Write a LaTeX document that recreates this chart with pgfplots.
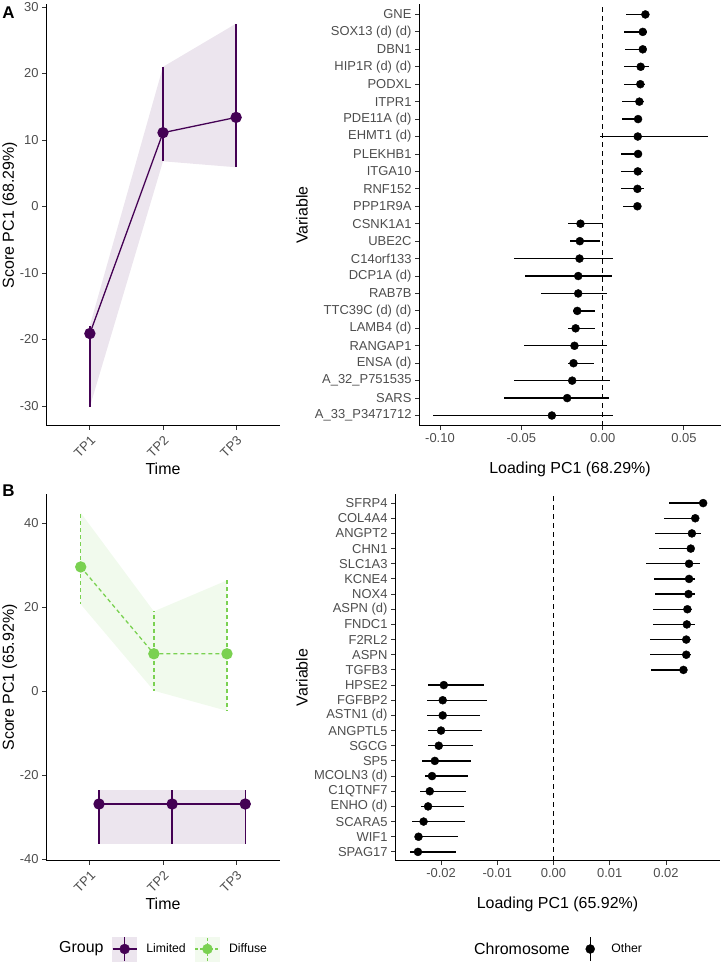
\documentclass[border=0pt]{standalone}
\usepackage{pgfplots}
\pgfplotsset{compat=1.18}
\usepackage{pgfplotstable}
\usepgfplotslibrary{fillbetween}
\usepackage{fontspec}
\setmainfont{Liberation Sans}
\definecolor{limited}{HTML}{440154}
\definecolor{diffuse}{HTML}{7AD151}
\definecolor{ticklab}{HTML}{4D4D4D}
\definecolor{tickc}{HTML}{333333}

\pgfplotstableread{
x y lo hi
1 -19.1 -30.1 -17.9
2 11.1 6.8 21.0
3 13.4 5.9 27.5
}\Aleft

\pgfplotstableread{
x y lo hi
0.875 29.6 20.7 42.5
1.875 8.9 0.1 19.0
2.875 8.9 -4.7 26.4
}\Bdiff

\pgfplotstableread{
x y lo hi
1.125 -26.9 -36.4 -23.6
2.125 -26.9 -36.4 -23.6
3.125 -26.9 -36.4 -23.6
}\Blim

% A right: y index (1 = bottom), loading, lower, upper
\pgfplotstableread{
y x lo hi
24 0.0263 0.0146 0.0273
23 0.0247 0.0134 0.0273
22 0.0247 0.0140 0.0267
21 0.0234 0.0129 0.0286
20 0.0232 0.0134 0.0259
19 0.0226 0.0121 0.0253
18 0.0218 0.0117 0.0238
17 0.0216 -0.0014 0.0649
16 0.0218 0.0111 0.0242
15 0.0216 0.0115 0.0249
14 0.0214 0.0115 0.0257
13 0.0214 0.0123 0.0236
12 -0.0136 -0.0210 -0.0004
11 -0.0140 -0.0199 -0.0018
10 -0.0142 -0.0543 0.0064
9 -0.0150 -0.0477 0.0058
8 -0.0150 -0.0378 0.0027
7 -0.0156 -0.0185 -0.0045
6 -0.0166 -0.0212 -0.0047
5 -0.0173 -0.0481 0.0027
4 -0.0179 -0.0210 -0.0053
3 -0.0187 -0.0547 0.0047
2 -0.0218 -0.0604 0.0039
1 -0.0312 -0.1042 0.0064
}\Aright

\pgfplotstableread{
y x lo hi
24 0.0266 0.0205 0.0269
23 0.0252 0.0197 0.0255
22 0.0246 0.0180 0.0263
21 0.0244 0.0188 0.0249
20 0.0241 0.0165 0.0261
19 0.0241 0.0178 0.0251
18 0.0240 0.0180 0.0252
17 0.0238 0.0176 0.0246
16 0.0237 0.0176 0.0251
15 0.0236 0.0172 0.0244
14 0.0236 0.0172 0.0245
13 0.0231 0.0174 0.0236
12 -0.0195 -0.0223 -0.0124
11 -0.0197 -0.0225 -0.0119
10 -0.0197 -0.0225 -0.0130
9 -0.0200 -0.0223 -0.0128
8 -0.0204 -0.0223 -0.0143
7 -0.0211 -0.0234 -0.0147
6 -0.0216 -0.0229 -0.0152
5 -0.0220 -0.0238 -0.0156
4 -0.0223 -0.0236 -0.0160
3 -0.0231 -0.0251 -0.0158
2 -0.0240 -0.0245 -0.0169
1 -0.0241 -0.0256 -0.0173
}\Bright

\pgfplotsset{
  gg/.style={
    scale only axis,
    anchor=south west,
    axis lines=left,
    axis line style={-, line width=1bp, black},
    tick style={line width=0.9bp, color=tickc},
    tick align=outside,
    major tick length=4bp,
    minor tick num=0,
    scaled ticks=false,
    tick label style={font=\fontsize{13}{13}\selectfont, color=ticklab},
    every axis label/.append style={font=\fontsize{16}{16}\selectfont, color=black},
  },
  legstyle/.style={
    legend columns=-1,
    legend cell align=left,
    legend style={draw=none, fill=none, inner sep=0pt, outer sep=0pt,
      font=\fontsize{12.3}{12.3}\selectfont, anchor=west,
      /tikz/every odd column/.append style={column sep=7bp},
      /tikz/every even column/.append style={column sep=7bp}},
  },
}

\begin{document}
\begin{tikzpicture}

% ---------------- A left ----------------
\begin{axis}[gg, at={(46bp,536bp)}, width=234bp, height=422bp,
  xmin=0.4, xmax=3.6, ymin=-33.0, ymax=30.45,
  xtick={1,2,3}, xticklabels={TP1,TP2,TP3},
  ytick={-30,-20,-10,0,10,20,30}, yticklabels={-30,-20,-10,0,10,20,30},
  xticklabel style={rotate=45, anchor=north east},
  xlabel={Time}, ylabel={Score PC1 (68.29\%)},
  every axis y label/.style={at={(axis description cs:-0.155,0.5)}, rotate=90, anchor=center},
  every axis x label/.style={at={(axis description cs:0.5,-0.102)}, anchor=center},
]
\addplot[name path=alo, draw=none, forget plot] table[x=x, y=lo] {\Aleft};
\addplot[name path=ahi, draw=none, forget plot] table[x=x, y=hi] {\Aleft};
\addplot[fill=limited, fill opacity=0.1, draw=none, forget plot] fill between[of=ahi and alo];
\addplot[limited, line width=1.3bp, mark=*, mark size=5bp, forget plot,
  error bars/.cd, y dir=both, y explicit, error mark=none,
  error bar style={line width=1.3bp, limited}]
  table[x=x, y=y, y error plus expr=\thisrow{hi}-\thisrow{y}, y error minus expr=\thisrow{y}-\thisrow{lo}] {\Aleft};
\end{axis}

% ---------------- A right ----------------
\begin{axis}[gg, at={(419bp,536bp)}, width=302bp, height=422bp,
  xmin=-0.1129, xmax=0.0728, ymin=0.4, ymax=24.6,
  xtick={-0.1,-0.05,0,0.05}, xticklabels={-0.10,-0.05,0.00,0.05},
  ytick={1,2,...,24},
  yticklabels={A\_33\_P3471712,SARS,A\_32\_P751535,ENSA (d),RANGAP1,LAMB4 (d),TTC39C (d) (d),RAB7B,DCP1A (d),C14orf133,UBE2C,CSNK1A1,PPP1R9A,RNF152,ITGA10,PLEKHB1,EHMT1 (d),PDE11A (d),ITPR1,PODXL,HIP1R (d) (d),DBN1,SOX13 (d) (d),GNE},
  xlabel={Loading PC1 (68.29\%)}, ylabel={Variable},
  every axis y label/.style={at={(axis description cs:-0.3874,0.5)}, rotate=90, anchor=center},
  every axis x label/.style={at={(axis description cs:0.5,-0.102)}, anchor=center},
]
\addplot[black, dash pattern=on 5bp off 4bp, line width=1bp, forget plot] coordinates {(0,0.4) (0,24.6)};
\addplot[only marks, mark=*, mark size=4bp, black, forget plot,
  error bars/.cd, x dir=both, x explicit, error mark=none,
  error bar style={line width=1.3bp, black}]
  table[x=x, y=y, x error plus expr=\thisrow{hi}-\thisrow{x}, x error minus expr=\thisrow{x}-\thisrow{lo}] {\Aright};
\end{axis}

% ---------------- B left ----------------
\begin{axis}[gg, legstyle, at={(46bp,101bp)}, width=234bp, height=367bp,
  xmin=0.4, xmax=3.6, ymin=-40.48, ymax=46.98,
  xtick={1,2,3}, xticklabels={TP1,TP2,TP3},
  ytick={-40,-20,0,20,40}, yticklabels={-40,-20,0,20,40},
  xticklabel style={rotate=45, anchor=north east},
  xlabel={Time}, ylabel={Score PC1 (65.92\%)},
  every axis y label/.style={at={(axis description cs:-0.155,0.5)}, rotate=90, anchor=center},
  every axis x label/.style={at={(axis description cs:0.5,-0.1172)}, anchor=center},
  legend style={at={(axis description cs:0.2821,-0.2398)}},
]
\addplot[name path=dlo, draw=none, forget plot] table[x=x, y=lo] {\Bdiff};
\addplot[name path=dhi, draw=none, forget plot] table[x=x, y=hi] {\Bdiff};
\addplot[fill=diffuse, fill opacity=0.1, draw=none, forget plot] fill between[of=dhi and dlo];
\addplot[name path=llo, draw=none, forget plot] table[x=x, y=lo] {\Blim};
\addplot[name path=lhi, draw=none, forget plot] table[x=x, y=hi] {\Blim};
\addplot[fill=limited, fill opacity=0.1, draw=none, forget plot] fill between[of=lhi and llo];
\addplot[limited, line width=1.3bp, mark=*, mark size=5bp, forget plot,
  error bars/.cd, y dir=both, y explicit, error mark=none,
  error bar style={line width=1.3bp, limited}]
  table[x=x, y=y, y error plus expr=\thisrow{hi}-\thisrow{y}, y error minus expr=\thisrow{y}-\thisrow{lo}] {\Blim};
\addplot[diffuse, line width=1.3bp, dash pattern=on 4bp off 3bp, mark=*, mark size=5bp, mark options={solid}, forget plot,
  error bars/.cd, y dir=both, y explicit, error mark=none,
  error bar style={line width=1.3bp, diffuse, dash pattern=on 4bp off 3bp}]
  table[x=x, y=y, y error plus expr=\thisrow{hi}-\thisrow{y}, y error minus expr=\thisrow{y}-\thisrow{lo}] {\Bdiff};
\addlegendimage{legend image code/.code={
  \fill[limited!10] (0bp,-12bp) rectangle (24bp,12bp);
  \draw[limited, line width=1.3bp] (12bp,-12bp) -- (12bp,12bp);
  \draw[limited, line width=1.3bp] (0bp,0bp) -- (24bp,0bp);
  \fill[limited] (12bp,0bp) circle (5bp);}}
\addlegendentry{Limited}
\addlegendimage{legend image code/.code={
  \fill[diffuse!10] (0bp,-12bp) rectangle (24bp,12bp);
  \draw[diffuse, line width=1.3bp, dash pattern=on 3bp off 2bp] (12bp,-12bp) -- (12bp,12bp);
  \draw[diffuse, line width=1.3bp, dash pattern=on 3bp off 2bp] (0bp,0bp) -- (24bp,0bp);
  \fill[diffuse] (12bp,0bp) circle (5bp);}}
\addlegendentry{Diffuse}
\end{axis}

% ---------------- B right ----------------
\begin{axis}[gg, legstyle, at={(395bp,101bp)}, width=325bp, height=367bp,
  xmin=-0.02818, xmax=0.0296, ymin=0.4, ymax=24.6,
  xtick={-0.02,-0.01,0,0.01,0.02}, xticklabels={-0.02,-0.01,0.00,0.01,0.02},
  ytick={1,2,...,24},
  yticklabels={SPAG17,WIF1,SCARA5,ENHO (d),C1QTNF7,MCOLN3 (d),SP5,SGCG,ANGPTL5,ASTN1 (d),FGFBP2,HPSE2,TGFB3,ASPN,F2RL2,FNDC1,ASPN (d),NOX4,KCNE4,SLC1A3,CHN1,ANGPT2,COL4A4,SFRP4},
  xlabel={Loading PC1 (65.92\%)}, ylabel={Variable},
  every axis y label/.style={at={(axis description cs:-0.2862,0.5)}, rotate=90, anchor=center},
  every axis x label/.style={at={(axis description cs:0.5,-0.1172)}, anchor=center},
  legend style={at={(axis description cs:0.5631,-0.2398)}},
]
\addplot[black, dash pattern=on 5bp off 4bp, line width=1bp, forget plot] coordinates {(0,0.4) (0,24.6)};
\addplot[only marks, mark=*, mark size=4bp, black, forget plot,
  error bars/.cd, x dir=both, x explicit, error mark=none,
  error bar style={line width=1.3bp, black}]
  table[x=x, y=y, x error plus expr=\thisrow{hi}-\thisrow{x}, x error minus expr=\thisrow{x}-\thisrow{lo}] {\Bright};
\addlegendimage{legend image code/.code={
  \fill[white] (0bp,-12bp) rectangle (24bp,12bp);
  \draw[black, line width=1.3bp] (12bp,-12bp) -- (12bp,12bp);
  \fill[black] (12bp,0bp) circle (4.5bp);}}
\addlegendentry{Other}
\end{axis}

% panel tags and legend titles
\node[font=\bfseries\fontsize{17}{17}\selectfont] at (8.5bp,949bp) {A};
\node[font=\bfseries\fontsize{17}{17}\selectfont] at (8.5bp,471bp) {B};
\node[anchor=west, font=\fontsize{16}{16}\selectfont, inner sep=0pt] at (59bp,13bp) {Group};
\node[anchor=west, font=\fontsize{16}{16}\selectfont, inner sep=0pt] at (474bp,13bp) {Chromosome};

\pgfresetboundingbox
\path (0bp,0bp) rectangle (723bp,962bp);
\end{tikzpicture}
\end{document}
